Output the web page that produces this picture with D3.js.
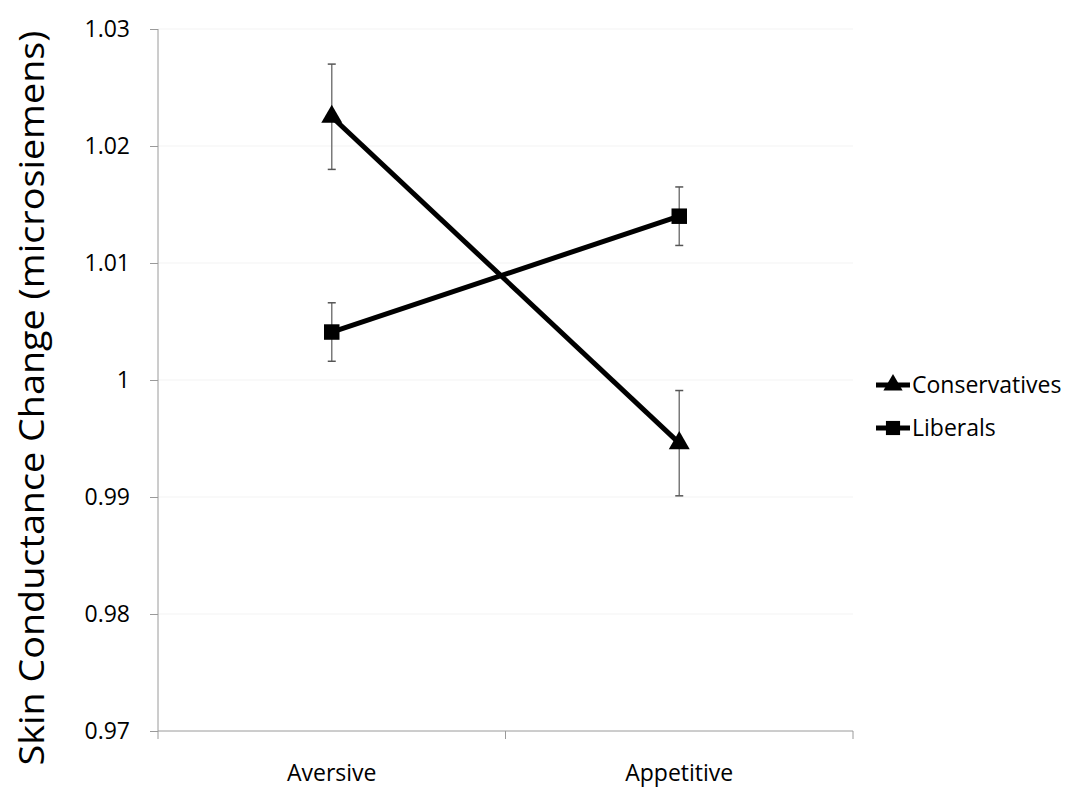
<!DOCTYPE html>
<html>
<head>
<meta charset="utf-8">
<script src="https://cdn.jsdelivr.net/npm/d3@7"></script>
<style>
  body { margin: 0; background: #fff; }
  text { font-family: "Open Sans", "Noto Sans", sans-serif; fill: #000; }
</style>
</head>
<body>
<script>
// Datos
const categories = ["Aversive", "Appetitive"];
const seriesNames = ["Conservatives", "Liberals"];
const conservatives = [1.0225, 0.9946];
const conservativesErr = [0.0045, 0.0045];
const liberals = [1.0041, 1.0140];
const liberalsErr = [0.0025, 0.0025];
const yTicks = [0.97, 0.98, 0.99, 1, 1.01, 1.02, 1.03];

const width = 1085, height = 800;
const plotLeft = 158, plotRight = 853, plotTop = 29, plotBottom = 731;

const svg = d3.select("body").append("svg")
    .attr("width", width)
    .attr("height", height);

const x = d3.scaleBand().domain(categories).range([plotLeft, plotRight]);
const y = d3.scaleLinear().domain([0.97, 1.03]).range([plotBottom, plotTop]);

// Lineas de cuadricula muy tenues
svg.append("g")
    .selectAll("line")
    .data(yTicks.slice(1))
    .enter()
    .append("line")
    .attr("x1", plotLeft).attr("x2", plotRight)
    .attr("y1", d => y(d)).attr("y2", d => y(d))
    .attr("stroke", "#f3f3f3")
    .attr("stroke-width", 1);

// Ejes
const yAxis = d3.axisLeft(y).tickValues(yTicks).tickSize(8).tickPadding(20)
    .tickFormat(d => d3.format("")(+d.toFixed(2)));
const gy = svg.append("g")
    .attr("transform", "translate(" + plotLeft + ",0)")
    .call(yAxis);
gy.selectAll("text").style("font-size", "23px").attr("fill", "#222");
gy.selectAll("line, path").attr("stroke", "#9a9a9a");
gy.select(".domain").attr("d", "M0," + plotTop + "V" + plotBottom);

const gx = svg.append("g")
    .attr("transform", "translate(0," + plotBottom + ")")
    .call(d3.axisBottom(x).tickSize(0).tickPadding(34));
gx.selectAll("text").style("font-size", "23px").attr("fill", "#222");
gx.select(".domain").attr("stroke", "#9a9a9a").attr("d", "M" + plotLeft + ",0H" + plotRight);
// marcas entre categorias
gx.selectAll(".sep")
    .data([plotLeft, (plotLeft + plotRight) / 2, plotRight])
    .enter()
    .append("line")
    .attr("class", "sep")
    .attr("x1", d => d).attr("x2", d => d)
    .attr("y1", 0).attr("y2", 8)
    .attr("stroke", "#9a9a9a");

// Titulo del eje y
svg.append("text")
    .attr("transform", "translate(44,398) rotate(-90)")
    .attr("text-anchor", "middle")
    .style("font-size", "35px")
    .attr("textLength", 735)
    .attr("lengthAdjust", "spacingAndGlyphs")
    .text("Skin Conductance Change (microsiemens)");

const cx = d => x(d) + x.bandwidth() / 2;

const series = [
    { name: seriesNames[0], values: conservatives, err: conservativesErr, shape: d3.symbolTriangle },
    { name: seriesNames[1], values: liberals, err: liberalsErr, shape: d3.symbolSquare }
];

// Barras de error
series.forEach(s => {
    const g = svg.append("g");
    categories.forEach((c, i) => {
        const hi = y(s.values[i] + s.err[i]);
        const lo = y(s.values[i] - s.err[i]);
        g.append("line")
            .attr("x1", cx(c)).attr("x2", cx(c))
            .attr("y1", hi).attr("y2", lo)
            .attr("stroke", "#7a7a7a").attr("stroke-width", 1.5);
        [hi, lo].forEach(v => {
            g.append("line")
                .attr("x1", cx(c) - 4).attr("x2", cx(c) + 4)
                .attr("y1", v).attr("y2", v)
                .attr("stroke", "#555").attr("stroke-width", 1.5);
        });
    });
});

// Lineas y marcadores
const line = d3.line().x((d, i) => cx(categories[i])).y(d => y(d));
series.forEach(s => {
    svg.append("path")
        .datum(s.values)
        .attr("d", line)
        .attr("fill", "none")
        .attr("stroke", "#000")
        .attr("stroke-width", 5);
    svg.selectAll(null)
        .data(s.values)
        .enter()
        .append("path")
        .attr("d", d3.symbol().type(s.shape).size(s.shape === d3.symbolSquare ? 240 : 190))
        .attr("transform", (d, i) => "translate(" + cx(categories[i]) + "," + y(d) + ")")
        .attr("fill", "#000");
});

// Leyenda
const legend = svg.append("g")
    .selectAll("g")
    .data(series)
    .enter()
    .append("g")
    .attr("transform", (d, i) => "translate(876," + (385 + i * 43) + ")");

legend.append("line")
    .attr("x1", 0).attr("x2", 34)
    .attr("stroke", "#000").attr("stroke-width", 5);
legend.append("path")
    .attr("d", d => d3.symbol().type(d.shape).size(d.shape === d3.symbolSquare ? 200 : 160)())
    .attr("transform", "translate(17,0)")
    .attr("fill", "#000");
legend.append("text")
    .attr("x", 36)
    .attr("dy", "0.35em")
    .style("font-size", "23px")
    .text(d => d.name);
</script>
</body>
</html>
